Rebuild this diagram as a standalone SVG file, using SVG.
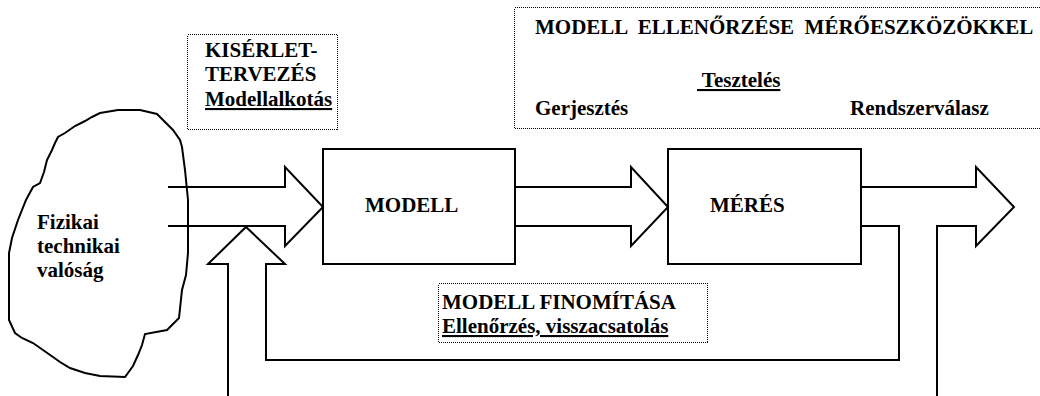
<svg xmlns="http://www.w3.org/2000/svg" width="1040" height="396" viewBox="0 0 1040 396">
<style>
text{font-family:'Liberation Serif','Times New Roman','DejaVu Serif',serif;font-weight:700;font-size:21px;fill:#000}
.u{text-decoration:underline}
.ln{fill:none;stroke:#000;stroke-width:2;stroke-linejoin:miter}
.dot{fill:none;stroke:#000;stroke-width:1;stroke-dasharray:1 1;shape-rendering:crispEdges}
</style>
<rect width="1040" height="396" fill="#fff"/>
<g id="valosag">
<path class="ln" d="M100,113 L118,110 L140,110 L157,114 L163,120 L173,130 L180,140 L182,147 L185,170 L188,200 L188,253 L186,275 L182,290 L179,318 L167,330 L145,334 L142,345 L138,355 L133,366 L125,377 L100,376 L85,373 L70,368 L60,362 L53,357 L43,350 L33,343 L22,338 L15,333 L9,320 L9,253 L12,238 L18,220 L26,200 L33,187 L40,183 L44,172 L47,160 L52,150 L55,143 L58,137 L65,133 L75,126 L85,121 L92,117 Z"/>
<text x="37" y="229">Fizikai</text>
<text x="37" y="253">technikai</text>
<text x="37" y="277">valóság</text>
</g>
<g id="kiserlet">
<rect class="dot" x="187.5" y="34.5" width="150" height="95"/>
<text x="205" y="57">KISÉRLET-</text>
<text x="205" y="81">TERVEZÉS</text>
<text class="u" x="205" y="106">Modellalkotás</text>
</g>
<g id="ellenorzes">
<rect class="dot" x="514.5" y="7.5" width="540" height="121"/>
<text x="535" y="34" xml:space="preserve">MODELL  ELLENŐRZÉSE  MÉRŐESZKÖZÖKKEL</text>
<text class="u" x="697" y="87" xml:space="preserve"> Tesztelés</text>
<text x="535" y="115">Gerjesztés</text>
<text x="850" y="115">Rendszerválasz</text>
</g>
<g id="modell">
<rect class="ln" x="323" y="149" width="192" height="115"/>
<text x="365" y="212">MODELL</text>
</g>
<g id="meres">
<rect class="ln" x="668" y="149" width="193" height="115"/>
<text x="710" y="212">MÉRÉS</text>
</g>
<g id="finomitas">
<rect class="dot" x="438.5" y="283.5" width="269" height="59"/>
<text x="442" y="309">MODELL FINOMÍTÁSA</text>
<text class="u" x="442" y="333">Ellenőrzés, visszacsatolás</text>
</g>
<g id="connectors">
<polyline class="ln" points="168,187 285,187 285,167 323,207 285,246 285,226 168,226"/>
<polyline class="ln" points="228,396 228,264 208,264 246,227 285,264 266,264 266,360 899,360 899,226 861,226"/>
<polyline class="ln" points="515,187 631,187 631,167 668,207 631,246 631,226 515,226"/>
<polyline class="ln" points="861,187 976,187 976,167 1014,207 976,246 976,226 937,226 937,396"/>
</g>
</svg>
